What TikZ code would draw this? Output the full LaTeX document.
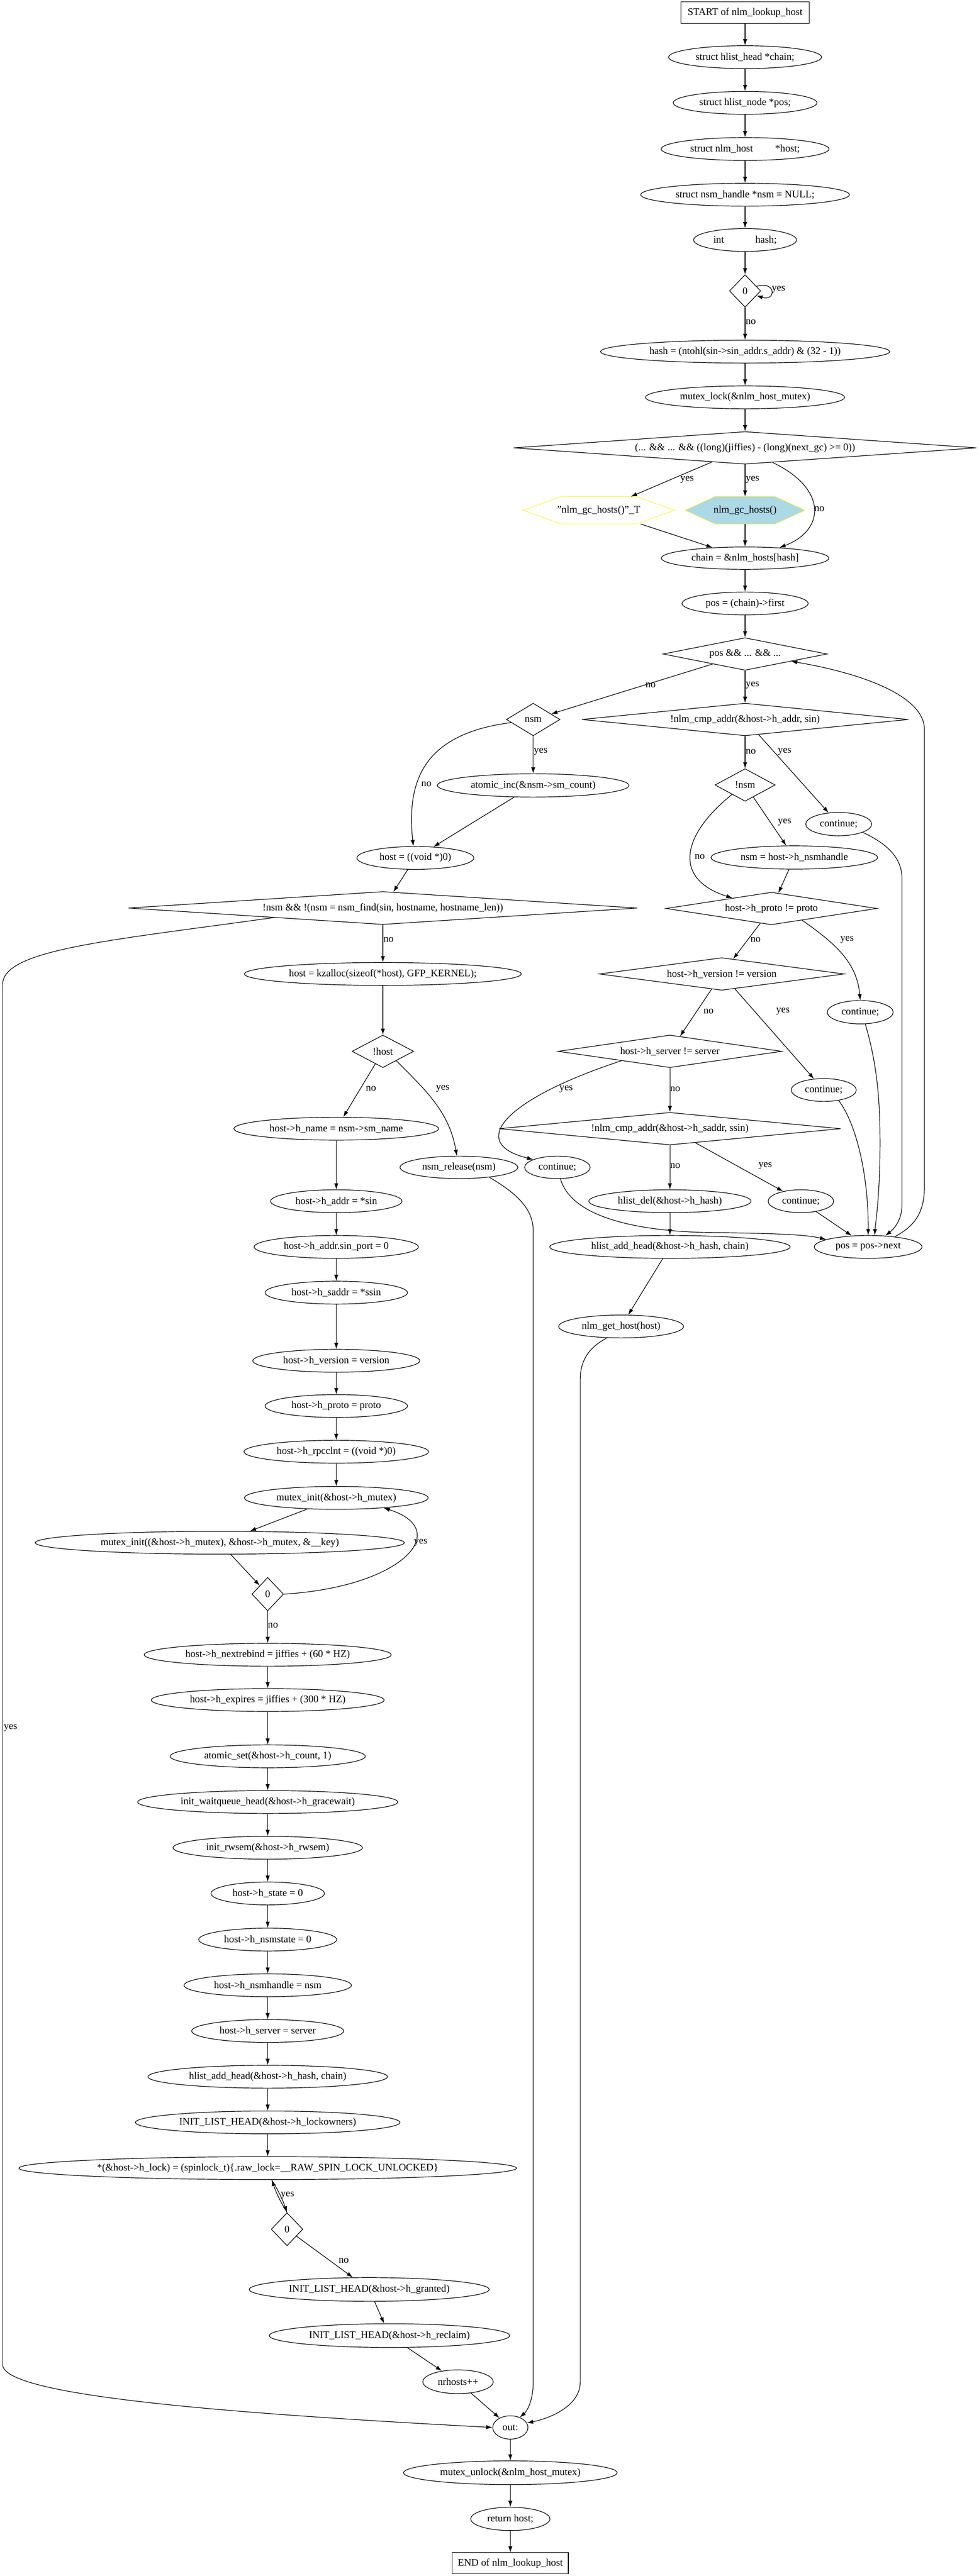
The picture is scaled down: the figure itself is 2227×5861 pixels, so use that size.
\documentclass[tikz,border=0pt]{standalone}
\usepackage{fontspec}
\setmainfont{Liberation Serif}
\usepackage{xcolor}
\usetikzlibrary{shapes.geometric,arrows.meta,backgrounds}
\definecolor{gclight}{HTML}{ADD8E6}

\begin{document}
\begin{tikzpicture}[
      x=0.5pt, y=-0.5pt, line width=0.7pt,
      font=\fontsize{11.5}{13.8}\selectfont,
      >={Latex[length=7pt,width=4.8pt]},
      type-term/.style={rectangle, draw, inner sep=0pt},
      type-stmt/.style={ellipse, draw, inner sep=0pt, minimum height=26pt},
      type-cond/.style={diamond, draw, inner sep=0pt, minimum height=37pt},
      type-hex/.style={rectangle, inner sep=0pt, minimum height=30.5pt},
      type-label/.style={inner sep=0pt}
    ]
      \useasboundingbox (0,0) rectangle (2227,5861);

      \node[type-term, minimum width=145.5pt, minimum height=24.5pt] (start) at (1695,29) {START of nlm\_lookup\_host};
      \node[type-stmt, minimum width=174pt] (chain) at (1695,130) {struct hlist\_head *chain;};
      \node[type-stmt, minimum width=163.5pt] (pos) at (1695,234) {struct hlist\_node *pos;};
      \node[type-stmt, minimum width=191pt] (hostdecl) at (1695,339) {struct nlm\_host\hspace{2.2em}*host;};
      \node[type-stmt, minimum width=237.5pt] (nsmdecl) at (1695,443) {struct nsm\_handle *nsm = NULL;};
      \node[type-stmt, minimum width=117pt] (hashdecl) at (1695,546) {int\hspace{3.1em}hash;};
      \node[type-cond, minimum width=35.5pt, aspect=0.96] (dzero) at (1695,662) {0};
      \node[type-stmt, minimum width=329pt] (hashcalc) at (1695,800) {hash = (ntohl(sin->sin\_addr.s\_addr) \& (32 - 1))};
      \node[type-stmt, minimum width=226.5pt] (lock) at (1695,904) {mutex\_lock(\&nlm\_host\_mutex)};
      \node[type-cond, minimum width=526.5pt, aspect=14.2] (gccond) at (1695,1019) {(... \&\& ... \&\& ((long)(jiffies) - (long)(next\_gc) >= 0))};
      \node[type-hex, minimum width=171.5pt] (gcT) at (1362,1161) {"nlm\_gc\_hosts()"\_T};
      \node[type-hex, minimum width=135.5pt] (gc) at (1695,1161) {nlm\_gc\_hosts()};
      \node[type-stmt, minimum width=190.5pt, minimum height=25.5pt] (chain2) at (1695,1270) {chain = \&nlm\_hosts[hash]};
      \node[type-stmt, minimum width=143.5pt] (first) at (1695,1373) {pos = (chain)->first};
      \node[type-cond, minimum width=186.5pt, aspect=5.04] (loop) at (1695,1488) {pos \&\& ... \&\& ...};

      \node[type-cond, minimum width=61pt, aspect=1.65] (ifnsm) at (1213,1637) {nsm};
      \node[type-cond, minimum width=371.5pt, aspect=10] (cmpaddr) at (1695,1637) {!nlm\_cmp\_addr(\&host->h\_addr, sin)};
      \node[type-stmt, minimum width=218pt, minimum height=26.5pt] (inc) at (1213,1787) {atomic\_inc(\&nsm->sm\_count)};
      \node[type-cond, minimum width=68.5pt, aspect=1.85] (notnsm) at (1695,1786) {!nsm};
      \node[type-stmt, minimum width=75pt, minimum height=26.5pt] (cont1) at (1908,1875) {continue;};
      \node[type-stmt, minimum width=189.5pt, minimum height=26.5pt] (nsmget) at (1807,1951) {nsm = host->h\_nsmhandle};
      \node[type-stmt, minimum width=133pt] (hnull) at (945,1952) {host = ((void *)0)};
      \node[type-cond, minimum width=579pt, minimum height=37.5pt, aspect=15.4] (find) at (871,2066) {!nsm \&\& !(nsm = nsm\_find(sin, hostname, hostname\_len))};
      \node[type-cond, minimum width=240pt, aspect=6.5] (proto) at (1755,2067) {host->h\_proto != proto};
      \node[type-stmt, minimum width=315pt] (alloc) at (871,2216) {host = kzalloc(sizeof(*host), GFP\_KERNEL);};
      \node[type-cond, minimum width=278.5pt, aspect=7.5] (version) at (1642,2216) {host->h\_version != version};
      \node[type-stmt, minimum width=75pt, minimum height=26.5pt] (cont2) at (1957,2303) {continue;};
      \node[type-cond, minimum width=70pt, aspect=1.9] (nothost) at (871,2392) {!host};
      \node[type-cond, minimum width=254.5pt, aspect=6.9] (server) at (1524,2392) {host->h\_server != server};
      \node[type-stmt, minimum width=74pt] (cont3) at (1874,2480) {continue;};
      \node[type-stmt, minimum width=233pt] (hname) at (765,2568) {host->h\_name = nsm->sm\_name};
      \node[type-cond, minimum width=388.5pt, aspect=10.5] (saddrcmp) at (1524,2568) {!nlm\_cmp\_addr(\&host->h\_saddr, ssin)};
      \node[type-stmt, minimum width=134pt, minimum height=25.5pt] (release) at (1044,2656) {nsm\_release(nsm)};
      \node[type-stmt, minimum width=74.5pt, minimum height=25.5pt] (cont4) at (1268,2656) {continue;};
      \node[type-stmt, minimum width=149.5pt] (haddr) at (765,2733) {host->h\_addr = *sin};
      \node[type-stmt, minimum width=184.5pt] (hdel) at (1524,2733) {hlist\_del(\&host->h\_hash)};
      \node[type-stmt, minimum width=74.5pt] (cont5) at (1822,2733) {continue;};
      \node[type-stmt, minimum width=187pt] (port) at (765,2837) {host->h\_addr.sin\_port = 0};
      \node[type-stmt, minimum width=273.5pt] (addhead) at (1524,2837) {hlist\_add\_head(\&host->h\_hash, chain)};
      \node[type-stmt, minimum width=122.5pt] (pnext) at (1975,2837) {pos = pos->next};
      \node[type-stmt, minimum width=162pt] (hsaddr) at (765,2941) {host->h\_saddr = *ssin};
      \node[type-stmt, minimum width=142pt] (gethost) at (1413,3018) {nlm\_get\_host(host)};
      \node[type-stmt, minimum width=190pt] (hversion) at (765,3096) {host->h\_version = version};
      \node[type-stmt, minimum width=162pt] (hproto) at (765,3199) {host->h\_proto = proto};
      \node[type-stmt, minimum width=210pt] (rpcclnt) at (765,3303) {host->h\_rpcclnt = ((void *)0)};
      \node[type-stmt, minimum width=209pt] (minit) at (765,3408) {mutex\_init(\&host->h\_mutex)};
      \node[type-stmt, minimum width=420pt] (minit2) at (500,3510) {mutex\_init((\&host->h\_mutex), \&host->h\_mutex, \&\_\_key)};
      \node[type-cond, minimum width=36pt, minimum height=38pt, aspect=0.95] (dzero2) at (609,3627) {0};
      \node[type-stmt, minimum width=281pt] (rebind) at (609,3765) {host->h\_nextrebind = jiffies + (60 * HZ)};
      \node[type-stmt, minimum width=265pt] (expires) at (609,3868) {host->h\_expires = jiffies + (300 * HZ)};
      \node[type-stmt, minimum width=222pt] (cnt) at (609,3996) {atomic\_set(\&host->h\_count, 1)};
      \node[type-stmt, minimum width=296pt] (gwait) at (609,4100) {init\_waitqueue\_head(\&host->h\_gracewait)};
      \node[type-stmt, minimum width=215.5pt] (rwsem) at (609,4204) {init\_rwsem(\&host->h\_rwsem)};
      \node[type-stmt, minimum width=129pt] (hstate) at (609,4308) {host->h\_state = 0};
      \node[type-stmt, minimum width=157pt] (nsmstate) at (609,4413) {host->h\_nsmstate = 0};
      \node[type-stmt, minimum width=190.5pt] (nsmhdl) at (609,4517) {host->h\_nsmhandle = nsm};
      \node[type-stmt, minimum width=173pt] (hserver) at (609,4621) {host->h\_server = server};
      \node[type-stmt, minimum width=272.5pt] (addhead2) at (609,4725) {hlist\_add\_head(\&host->h\_hash, chain)};
      \node[type-stmt, minimum width=301pt] (lockown) at (609,4829) {INIT\_LIST\_HEAD(\&host->h\_lockowners)};
      \node[type-stmt, minimum width=566pt] (spin) at (609,4933) {*(\&host->h\_lock) = (spinlock\_t)\{.raw\_lock=\_\_RAW\_SPIN\_LOCK\_UNLOCKED\}};
      \node[type-cond, minimum width=36pt, minimum height=37.5pt, aspect=0.96] (dzero3) at (653,5072) {0};
      \node[type-stmt, minimum width=273pt, minimum height=27pt] (granted) at (840,5209) {INIT\_LIST\_HEAD(\&host->h\_granted)};
      \node[type-stmt, minimum width=273.5pt, minimum height=27pt] (reclaim) at (886,5314) {INIT\_LIST\_HEAD(\&host->h\_reclaim)};
      \node[type-stmt, minimum width=80pt, minimum height=27pt] (nrhosts) at (1042,5419) {nrhosts++};
      \node[type-stmt, minimum width=40pt, minimum height=26.5pt] (out) at (1161,5523) {out:};
      \node[type-stmt, minimum width=243pt, minimum height=27pt] (unlock) at (1161,5626) {mutex\_unlock(\&nlm\_host\_mutex)};
      \node[type-stmt, minimum width=90pt, minimum height=26.5pt] (ret) at (1161,5731) {return host;};
      \node[type-term, minimum width=132pt, minimum height=24pt] (end) at (1161,5832) {END of nlm\_lookup\_host};

      \draw[->] (start) -- (chain);
      \draw[->] (chain) -- (pos);
      \draw[->] (pos) -- (hostdecl);
      \draw[->] (hostdecl) -- (nsmdecl);
      \draw[->] (nsmdecl) -- (hashdecl);
      \draw[->] (hashdecl) -- (dzero);
      \draw[->] (dzero.22) .. controls +(45,-14) and +(45,14) .. (dzero.-22) node[type-label] at (1771,659) {yes};
      \draw[->] (dzero) -- (hashcalc) node[type-label] at (1708,733) {no};
      \draw[->] (hashcalc) -- (lock);
      \draw[->] (lock) -- (gccond);
      \draw[->] (gccond) -- (gcT) node[type-label] at (1563,1091) {yes};
      \draw[->] (gccond) -- (gc) node[type-label] at (1712,1091) {yes};
      \draw[->] (gccond.-28) .. controls (1880,1110) and (1880,1205) .. (chain2.17) node[type-label] at (1864,1158) {no};
      \draw[->] (gcT) -- (chain2);
      \draw[->] (gc) -- (chain2);
      \draw[->] (chain2) -- (first);
      \draw[->] (first) -- (loop);
      \draw[->] (loop) -- (ifnsm) node[type-label] at (1480,1559) {no};
      \draw[->] (loop) -- (cmpaddr) node[type-label] at (1712,1559) {yes};

      \draw[->] (ifnsm) -- (inc) node[type-label] at (1230,1710) {yes};
      \draw[->] (ifnsm.-172) .. controls (960,1670) and (925,1780) .. (hnull.100) node[type-label] at (970,1784) {no};
      \draw[->] (inc) -- (hnull);
      \draw[->] (hnull) -- (find);
      \draw[->] (find) -- (alloc) node[type-label] at (884,2138) {no};
      \draw[->] (find.-175) .. controls (250,2140) and (6,2160) .. (6,2240) -- (6,5380) .. controls (6,5450) and (500,5490) .. (out.west) node[type-label] at (24,3931) {yes};
      \draw[->] (alloc) -- (nothost);
      \draw[->] (nothost) -- (hname) node[type-label] at (844,2477) {no};
      \draw[->] (nothost.-35) to[out=-45, in=100] (release.100) node[type-label] at (1007,2477) {yes};
      \draw[->] (release.-18) .. controls (1175,2715) and (1213,2750) .. (1213,2800) -- (1213,5420) .. controls (1213,5460) and (1200,5485) .. (out.47);
      \draw[->] (hname) -- (haddr);
      \draw[->] (haddr) -- (port);
      \draw[->] (port) -- (hsaddr);
      \draw[->] (hsaddr) -- (hversion);
      \draw[->] (hversion) -- (hproto);
      \draw[->] (hproto) -- (rpcclnt);
      \draw[->] (rpcclnt) -- (minit);
      \draw[->] (minit) -- (minit2);
      \draw[->] (minit2) -- (dzero2);
      \draw[->] (dzero2.east) .. controls (920,3610) and (1030,3480) .. (minit.-12) node[type-label] at (957,3510) {yes};
      \draw[->] (dzero2) -- (rebind) node[type-label] at (621,3698) {no};
      \draw[->] (rebind) -- (expires);
      \draw[->] (expires) -- (cnt);
      \draw[->] (cnt) -- (gwait);
      \draw[->] (gwait) -- (rwsem);
      \draw[->] (rwsem) -- (hstate);
      \draw[->] (hstate) -- (nsmstate);
      \draw[->] (nsmstate) -- (nsmhdl);
      \draw[->] (nsmhdl) -- (hserver);
      \draw[->] (hserver) -- (addhead2);
      \draw[->] (addhead2) -- (lockown);
      \draw[->] (lockown) -- (spin);
      \draw[->] (spin.-71) to[bend left=6] (dzero3.north);
      \draw[->] (dzero3.north) to[bend left=6] (spin.-71) node[type-label] at (654,4995) {yes};
      \draw[->] (dzero3) -- (granted) node[type-label] at (782,5144) {no};
      \draw[->] (granted) -- (reclaim);
      \draw[->] (reclaim) -- (nrhosts);
      \draw[->] (nrhosts) -- (out);
      \draw[->] (out) -- (unlock);
      \draw[->] (unlock) -- (ret);
      \draw[->] (ret) -- (end);

      \draw[->] (cmpaddr) -- (notnsm) node[type-label] at (1708,1710) {no};
      \draw[->] (cmpaddr) -- (cont1) node[type-label] at (1785,1710) {yes};
      \draw[->] (notnsm) -- (nsmget) node[type-label] at (1785,1871) {yes};
      \draw[->] (notnsm.-144) .. controls (1550,1900) and (1530,2000) .. (proto.165) node[type-label] at (1592,1949) {no};
      \draw[->] (nsmget) -- (proto);
      \draw[->] (proto) -- (version) node[type-label] at (1719,2138) {no};
      \draw[->] (proto.-21) to[out=-35, in=95] (cont2.north) node[type-label] at (1927,2138) {yes};
      \draw[->] (version) -- (server) node[type-label] at (1612,2301) {no};
      \draw[->] (version) -- (cont3) node[type-label] at (1781,2301) {yes};
      \draw[->] (server) -- (saddrcmp) node[type-label] at (1536,2478) {no};
      \draw[->] (server.-169) .. controls (1150,2500) and (1060,2600) .. (cont4.162) node[type-label] at (1288,2478) {yes};
      \draw[->] (saddrcmp) -- (hdel) node[type-label] at (1536,2653) {no};
      \draw[->] (saddrcmp) -- (cont5) node[type-label] at (1741,2653) {yes};
      \draw[->] (hdel) -- (addhead);
      \draw[->] (addhead) -- (gethost);
      \draw[->] (gethost.-141) .. controls (1335,3068) and (1320,3100) .. (1320,3140) -- (1320,5420) .. controls (1320,5470) and (1260,5500) .. (out.15);

      \draw[->] (cont1.-19) .. controls (2030,1925) and (2052,1960) .. (2052,2000) -- (2052,2740) .. controls (2052,2775) and (2035,2795) .. (pnext.33);
      \draw[->] (cont2.-67) .. controls (1995,2420) and (2002,2500) .. (2002,2600) .. controls (2002,2720) and (1992,2780) .. (pnext.61);
      \draw[->] (cont3.-35) .. controls (1950,2560) and (1976,2680) .. (pnext.north);
      \draw[->] (cont4.-75) .. controls (1300,2770) and (1450,2800) .. (1600,2804) .. controls (1750,2806) and (1830,2808) .. (pnext.170);
      \draw[->] (cont5) -- (pnext);
      \draw[->] (pnext.21) .. controls (2080,2790) and (2103,2760) .. (2103,2700) -- (2103,1660) .. controls (2103,1580) and (1950,1530) .. (loop.-9);

      \begin{scope}[on background layer]
        \fill[white] (0,0) rectangle (2227,5861);
        \draw[yellow, fill=white] (gcT.west) -- ([xshift=43.5pt]gcT.north west) -- ([xshift=-43.5pt]gcT.north east)
          -- (gcT.east) -- ([xshift=-43.5pt]gcT.south east) -- ([xshift=43.5pt]gcT.south west) -- cycle;
        \draw[yellow, fill=gclight] (gc.west) -- ([xshift=34pt]gc.north west) -- ([xshift=-34pt]gc.north east)
          -- (gc.east) -- ([xshift=-34pt]gc.south east) -- ([xshift=34pt]gc.south west) -- cycle;
      \end{scope}
    \end{tikzpicture}
\end{document}
